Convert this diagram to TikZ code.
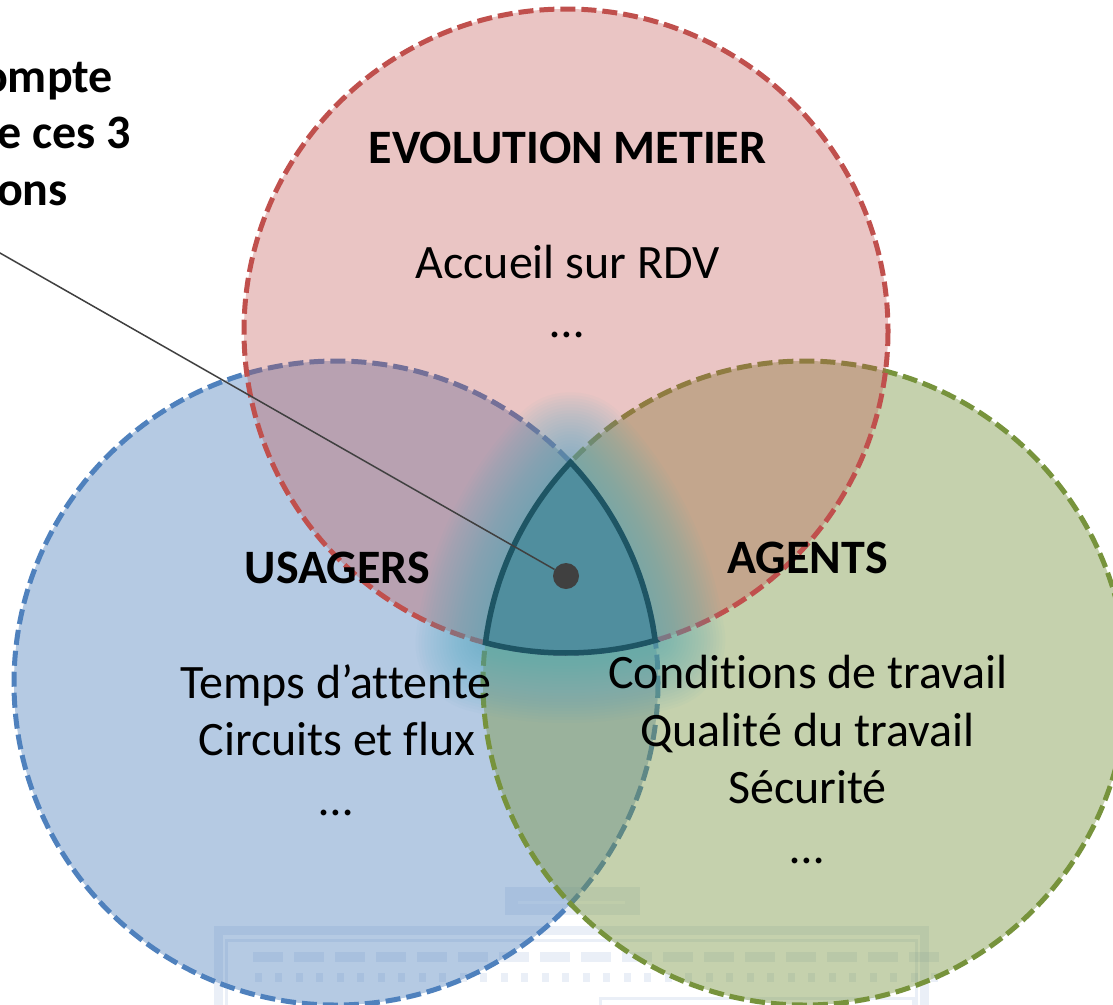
\documentclass[tikz,border=0pt]{standalone}
\usepackage{fontspec}
\setmainfont{Carlito}[Ligatures=NoCommon]

\definecolor{redline}{RGB}{192,80,77}
\definecolor{blueline}{RGB}{79,129,189}
\definecolor{greenline}{RGB}{119,147,60}
\definecolor{coretri}{RGB}{80,142,158}
\definecolor{coreedge}{RGB}{30,85,100}
\definecolor{glowc}{RGB}{80,170,195}
\definecolor{pointer}{RGB}{64,64,64}
\definecolor{ghost}{RGB}{90,130,190}

\tikzset{
  setborder/.style={line width=5pt, dash pattern=on 15pt off 6pt},
  headline/.style={font=\fontsize{48}{57}\selectfont\bfseries, inner sep=0pt, anchor=base},
  itemtext/.style={font=\fontsize{48}{57}\selectfont, inner sep=0pt, anchor=base},
  % region common to the three circles (Reuleaux-like triangle)
  corepath/.style={insert path={(655.2,640.4)
      arc[start angle=73.92, end angle=104.48, radius=322]
      arc[start angle=187.17, end angle=223.26, radius=322]
      arc[start angle=-43.26, end angle=-7.60, radius=322] -- cycle}}
}

\begin{document}
\begin{tikzpicture}[x=1pt,y=-1pt]
\useasboundingbox (0,0) rectangle (1113,1004);
\fill[white] (0,0) rectangle (1113,1004);

% faint screenshot in the background
\begin{scope}[color=ghost, opacity=0.12]
  \fill (505,887) rectangle (640,915);
  \draw[line width=9pt] (218,930) rectangle (924,1015);
  \draw[line width=3pt] (226,940) rectangle (916,1015);
  \foreach \i in {0,...,16} {
    \fill ({253+41*\i},952) rectangle +(30,10);
    \fill ({255+41*\i},973) rectangle +(7,9);
    \fill ({275+41*\i},973) rectangle +(7,9);
  }
  \draw[line width=3pt] (600,998) rectangle (913,1010);
\end{scope}
\draw[white, opacity=0.5, line width=3pt] (518,902) -- (625,902);

% the three sets
\coordinate (cB) at (336,683);
\coordinate (cG) at (805,683);
\coordinate (cR) at (566,331);

\fill[blueline, fill opacity=0.42] (cB) circle[radius=322];
\draw[blueline, setborder] (cB) circle[radius=322];
\fill[greenline, fill opacity=0.42] (cG) circle[radius=322];
\draw[greenline, setborder] (cG) circle[radius=322];
\fill[redline, fill opacity=0.33] (cR) circle[radius=322];
\draw[redline, setborder] (cR) circle[radius=322];

% soft glow around the common region
\foreach \w in {140,134,...,8}
  \draw[glowc, line width=\w pt, opacity=0.034, line join=round, corepath];

\filldraw[fill=coretri, draw=coreedge, line width=5.5pt, line join=miter, corepath];

% pointer from the centre
\node[circle, fill=pointer, minimum size=26pt, inner sep=0pt] (hub) at (566,576) {};
\coordinate (tail) at (-10,247.3);
\draw[pointer, line width=1.5pt] (hub) -- (tail);

% captions
\node[headline, anchor=base east] (note1) at (113,92) {ompte};
\node[headline, anchor=base east] (note2) at (131,148) {e ces 3};
\node[headline, anchor=base east] (note3) at (68,205) {ons};

\node[headline] (evo) at (567.5,163) {EVOLUTION METIER};
\node[itemtext] (evo1) at (567.5,278) {Accueil sur RDV};
\node[itemtext] (evo2) at (567,337) {…};

\node[headline] (usa) at (337.5,583) {USAGERS};
\node[itemtext] (usa1) at (336,698) {Temps d’attente};
\node[itemtext] (usa2) at (337,755) {Circuits et flux};
\node[itemtext] (usa3) at (336,815) {…};

\node[headline] (age) at (807.5,573) {AGENTS};
\node[itemtext] (age1) at (808,688) {Conditions de travail};
\node[itemtext] (age2) at (807.5,746) {Qualité du travail};
\node[itemtext] (age3) at (807.5,803) {Sécurité};
\node[itemtext] (age4) at (807.5,863) {…};
\end{tikzpicture}
\end{document}
